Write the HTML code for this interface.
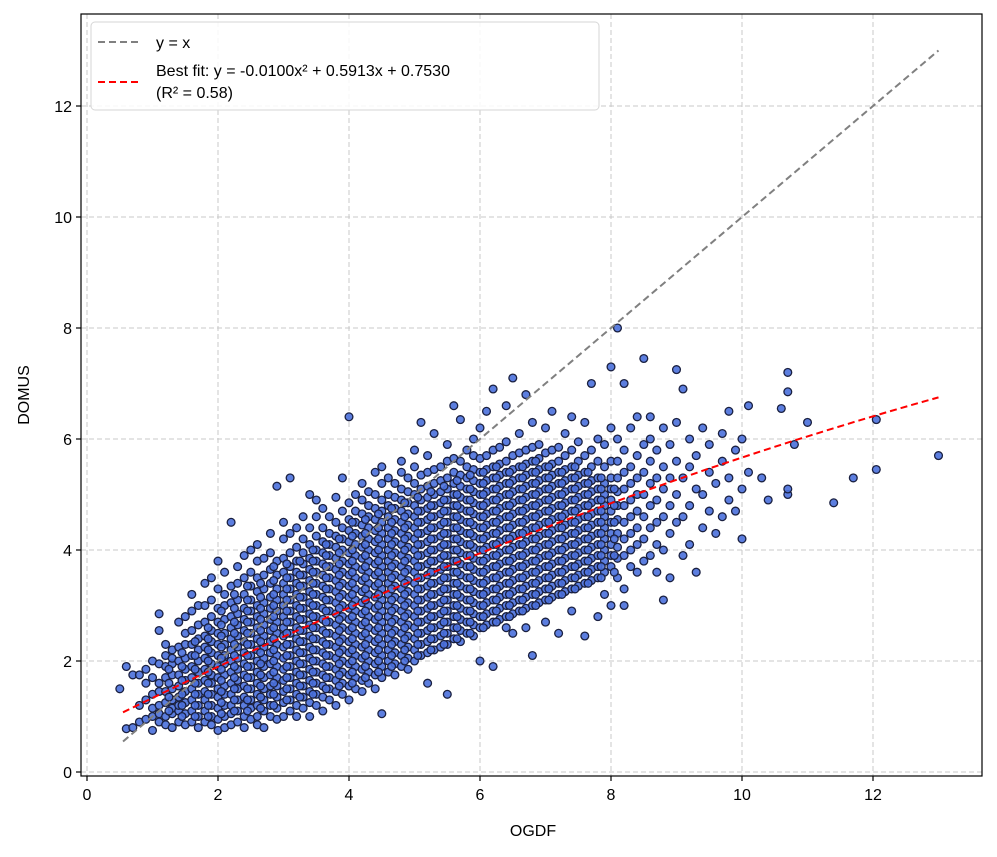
<!DOCTYPE html>
<html><head><meta charset="utf-8"><style>
body{margin:0;background:#fff;}
svg text{font-family:"Liberation Sans","DejaVu Sans",sans-serif;fill:#000;}
</style></head><body>
<svg id="chart" width="997" height="852" viewBox="0 0 997 852" xmlns="http://www.w3.org/2000/svg">
<rect width="997" height="852" fill="#fff"/>
<g id="grid"></g>
<g id="points"></g>
<g id="lines"></g>
<rect x="81" y="14" width="901" height="762" fill="none" stroke="#000" stroke-width="1.2"/>
<g id="ticks"></g>
<text x="533" y="836" font-size="16" text-anchor="middle">OGDF</text>
<text x="0" y="0" font-size="16" text-anchor="middle" transform="translate(29,395) rotate(-90)">DOMUS</text>
<g>
<rect x="91" y="22" width="508" height="88" rx="4" fill="#fff" fill-opacity="0.85" stroke="#d6d6d6"/>
<line x1="98" y1="42" x2="140" y2="42" stroke="#808080" stroke-width="2" stroke-dasharray="7,4"/>
<text x="156" y="48" font-size="16">y = x</text>
<line x1="98" y1="82" x2="140" y2="82" stroke="#ff0000" stroke-width="2" stroke-dasharray="7,4"/>
<text x="156" y="76" font-size="16">Best fit: y = -0.0100x² + 0.5913x + 0.7530</text>
<text x="156" y="98" font-size="16">(R² = 0.58)</text>
</g>
</svg>
<script>
const xTicks=[0,2,4,6,8,10,12];
const yTicks=[0,2,4,6,8,10,12];
const fitCoef=[-0.0100,0.5913,0.7530];
const lineRange=[0.55,13];
const colX=[0.5,0.6,0.7,0.8,0.9,1.0,1.1,1.2,1.3,1.4,1.5,1.6,1.7,1.8,1.9,2.0,2.1,2.2,2.3,2.4,2.5,2.6,2.7,2.8,2.9,3.0,3.1,3.2,3.3,3.4,3.5,3.6,3.7,3.8,3.9,4.0,4.1,4.2,4.3,4.4,4.5,4.6,4.7,4.8,4.9,5.0,5.1,5.2,5.3,5.4,5.5,5.6,5.7,5.8,5.9,6.0,6.1,6.2,6.3,6.4,6.5,6.6,6.7,6.8,6.9,7.0,7.1,7.2,7.3,7.4,7.5,7.6,7.7,7.8,7.9,8.0,8.1,8.2,8.3,8.4,8.5,8.6,8.7,8.8,8.9,9.0,9.1,9.2,9.3,9.4,9.5,9.6,9.7,9.8,9.9,10.0,10.1,10.3,10.4,10.6,10.7,10.8,11.0,11.4,11.7,12.05,13.0];
const colY=[
[1.5],[0.78,1.9],[0.8,1.75],[1.75,1.2,0.9],[0.95,1.6,1.3,1.85],
[0.75,1.15,1.4,1.7,2.0,1.0],
[0.9,1.2,1.45,1.6,1.95,2.85,2.55,1.05],
[1.0,1.25,1.45,1.7,1.9,2.1,0.85,2.3],
[0.8,1.05,1.3,1.5,1.75,1.95,2.2,2.05,1.15],
[0.9,1.1,1.35,1.55,1.75,2.0,2.25,2.7,1.2],
[0.85,1.05,1.25,1.45,1.65,1.85,2.05,2.3,2.5,2.8],
[0.9,1.1,1.3,1.5,1.7,1.9,2.1,2.3,2.55,2.9,3.2],
[0.8,1.0,1.2,1.4,1.6,1.8,2.0,2.2,2.4,2.65,3.0],
[0.9,1.1,1.3,1.45,1.65,1.85,2.05,2.25,2.45,2.7,3.0,3.4],
[0.85,1.0,1.2,1.4,1.6,1.75,1.95,2.15,2.35,2.55,2.8,3.1,3.5],
[0.75,0.95,1.15,1.35,1.5,1.7,1.9,2.1,2.3,2.5,2.7,2.95,3.3,3.8],
[0.8,1.0,1.2,1.4,1.55,1.75,1.95,2.1,2.3,2.5,2.75,3.0,3.2,3.6],
[0.85,1.05,1.2,1.4,1.6,1.8,2.0,2.2,2.4,2.6,2.8,3.05,3.35,4.5],
[0.9,1.1,1.3,1.5,1.65,1.85,2.05,2.25,2.45,2.65,2.85,3.1,3.4,3.7],
[0.8,1.0,1.2,1.35,1.55,1.75,1.95,2.15,2.35,2.55,2.75,2.95,3.2,3.5,3.9],
[0.95,1.15,1.3,1.5,1.7,1.9,2.1,2.3,2.5,2.7,2.9,3.1,3.35,3.6,4.0],
[0.85,1.0,1.2,1.4,1.6,1.8,2.0,2.2,2.4,2.6,2.8,3.0,3.25,3.5,3.8,4.1],
[0.8,1.1,1.3,1.5,1.7,1.9,2.05,2.25,2.45,2.65,2.85,3.05,3.3,3.55,3.85],
[1.0,1.2,1.4,1.55,1.75,1.95,2.15,2.35,2.55,2.75,2.95,3.15,3.4,3.65,3.95,4.3],
[0.95,1.15,1.35,1.55,1.7,1.9,2.1,2.3,2.5,2.7,2.9,3.1,3.3,3.55,3.8,5.15],
[1.0,1.25,1.45,1.65,1.85,2.05,2.25,2.45,2.6,2.8,3.0,3.2,3.4,3.6,3.85,4.2,4.5],
[1.1,1.3,1.5,1.7,1.9,2.1,2.3,2.5,2.7,2.9,3.1,3.3,3.5,3.7,3.95,4.3,5.3],
[1.0,1.2,1.4,1.6,1.8,2.0,2.2,2.4,2.6,2.8,3.0,3.2,3.4,3.6,3.8,4.05,4.4],
[1.15,1.35,1.55,1.75,1.95,2.15,2.35,2.55,2.75,2.95,3.15,3.35,3.55,3.75,3.95,4.2,4.6],
[1.0,1.25,1.45,1.65,1.85,2.05,2.25,2.45,2.65,2.85,3.05,3.25,3.45,3.65,3.85,4.1,4.4,5.0],
[1.2,1.4,1.6,1.8,2.0,2.2,2.4,2.6,2.8,3.0,3.2,3.4,3.6,3.8,4.0,4.25,4.6,4.9],
[1.1,1.35,1.55,1.75,1.95,2.15,2.35,2.55,2.75,2.95,3.15,3.35,3.55,3.75,3.95,4.15,4.4,4.75],
[1.3,1.5,1.7,1.9,2.1,2.3,2.5,2.7,2.9,3.1,3.3,3.5,3.7,3.9,4.1,4.3,4.6],
[1.2,1.45,1.65,1.85,2.05,2.25,2.45,2.65,2.85,3.05,3.25,3.45,3.65,3.85,4.05,4.25,4.5,4.95],
[1.4,1.6,1.8,2.0,2.2,2.4,2.6,2.8,3.0,3.2,3.4,3.6,3.8,4.0,4.2,4.4,4.7,5.3],
[1.3,1.55,1.75,1.95,2.15,2.35,2.55,2.75,2.95,3.15,3.35,3.55,3.75,3.95,4.15,4.35,4.55,4.85,6.4],
[1.5,1.7,1.9,2.1,2.3,2.5,2.7,2.9,3.1,3.3,3.5,3.7,3.9,4.1,4.3,4.5,4.7,5.0],
[1.45,1.65,1.85,2.05,2.25,2.45,2.65,2.85,3.05,3.25,3.45,3.65,3.85,4.05,4.25,4.45,4.65,4.9,5.2],
[1.6,1.8,2.0,2.2,2.4,2.6,2.8,3.0,3.2,3.4,3.6,3.8,4.0,4.2,4.4,4.6,4.8,5.05],
[1.5,1.75,1.95,2.15,2.35,2.55,2.75,2.95,3.15,3.35,3.55,3.75,3.95,4.15,4.35,4.55,4.75,5.0,5.4],
[1.05,1.7,1.9,2.1,2.3,2.5,2.7,2.9,3.1,3.3,3.5,3.7,3.9,4.1,4.3,4.5,4.7,4.9,5.2,5.5],
[1.8,2.0,2.2,2.4,2.6,2.8,3.0,3.2,3.4,3.6,3.8,4.0,4.2,4.4,4.6,4.8,5.0,5.3],
[1.75,1.95,2.15,2.35,2.55,2.75,2.95,3.15,3.35,3.55,3.75,3.95,4.15,4.35,4.55,4.75,4.95,5.2],
[1.9,2.1,2.3,2.5,2.7,2.9,3.1,3.3,3.5,3.7,3.9,4.1,4.3,4.5,4.7,4.9,5.1,5.4,5.6],
[1.85,2.05,2.25,2.45,2.65,2.85,3.05,3.25,3.45,3.65,3.85,4.05,4.25,4.45,4.65,4.85,5.05,5.3],
[2.0,2.2,2.4,2.6,2.8,3.0,3.2,3.4,3.6,3.8,4.0,4.2,4.4,4.6,4.8,5.0,5.2,5.5,5.8],
[2.1,2.3,2.5,2.7,2.9,3.1,3.3,3.5,3.7,3.9,4.1,4.3,4.5,4.7,4.9,5.1,5.35,6.3],
[1.6,2.15,2.35,2.55,2.75,2.95,3.15,3.35,3.55,3.75,3.95,4.15,4.35,4.55,4.75,4.95,5.15,5.4,5.7],
[2.2,2.4,2.6,2.8,3.0,3.2,3.4,3.6,3.8,4.0,4.2,4.4,4.6,4.8,5.0,5.2,5.45,6.1],
[2.25,2.45,2.65,2.85,3.05,3.25,3.45,3.65,3.85,4.05,4.25,4.45,4.65,4.85,5.05,5.25,5.5],
[1.4,2.3,2.5,2.7,2.9,3.1,3.3,3.5,3.7,3.9,4.1,4.3,4.5,4.7,4.9,5.1,5.3,5.6,5.9],
[2.4,2.6,2.8,3.0,3.2,3.4,3.6,3.8,4.0,4.2,4.4,4.6,4.8,5.0,5.2,5.4,5.65,6.6],
[2.35,2.55,2.75,2.95,3.15,3.35,3.55,3.75,3.95,4.15,4.35,4.55,4.75,4.95,5.15,5.35,5.6,6.35],
[2.5,2.7,2.9,3.1,3.3,3.5,3.7,3.9,4.1,4.3,4.5,4.7,4.9,5.1,5.3,5.5,5.8],
[2.45,2.65,2.85,3.05,3.25,3.45,3.65,3.85,4.05,4.25,4.45,4.65,4.85,5.05,5.25,5.45,5.7,6.0],
[2.0,2.6,2.8,3.0,3.2,3.4,3.6,3.8,4.0,4.2,4.4,4.6,4.8,5.0,5.2,5.4,5.65,6.2],
[2.65,2.85,3.05,3.25,3.45,3.65,3.85,4.05,4.25,4.45,4.65,4.85,5.05,5.25,5.45,5.7,6.5],
[1.9,2.7,2.9,3.1,3.3,3.5,3.7,3.9,4.1,4.3,4.5,4.7,4.9,5.1,5.3,5.5,5.8,6.9],
[2.75,2.95,3.15,3.35,3.55,3.75,3.95,4.15,4.35,4.55,4.75,4.95,5.15,5.35,5.55,5.85],
[2.6,2.8,3.0,3.2,3.4,3.6,3.8,4.0,4.2,4.4,4.6,4.8,5.0,5.2,5.4,5.6,5.95,6.6],
[2.5,2.85,3.05,3.25,3.45,3.65,3.85,4.05,4.25,4.45,4.65,4.85,5.05,5.25,5.45,5.7,7.1],
[2.9,3.1,3.3,3.5,3.7,3.9,4.1,4.3,4.5,4.7,4.9,5.1,5.3,5.5,5.75,6.1],
[2.6,2.95,3.15,3.35,3.55,3.75,3.95,4.15,4.35,4.55,4.75,4.95,5.15,5.35,5.55,5.8,6.8],
[2.1,3.0,3.2,3.4,3.6,3.8,4.0,4.2,4.4,4.6,4.8,5.0,5.2,5.4,5.6,5.85,6.3],
[3.05,3.25,3.45,3.65,3.85,4.05,4.25,4.45,4.65,4.85,5.05,5.25,5.45,5.65,5.9],
[2.7,3.1,3.3,3.5,3.7,3.9,4.1,4.3,4.5,4.7,4.9,5.1,5.3,5.5,5.75,6.2],
[3.15,3.35,3.55,3.75,3.95,4.15,4.35,4.55,4.75,4.95,5.15,5.35,5.55,5.8,6.5],
[2.5,3.2,3.4,3.6,3.8,4.0,4.2,4.4,4.6,4.8,5.0,5.2,5.4,5.6,5.85],
[3.25,3.45,3.65,3.85,4.05,4.25,4.45,4.65,4.85,5.05,5.25,5.45,5.7,6.1],
[2.9,3.3,3.5,3.7,3.9,4.1,4.3,4.5,4.7,4.9,5.1,5.3,5.5,5.8,6.4],
[3.35,3.55,3.75,3.95,4.15,4.35,4.55,4.75,4.95,5.15,5.35,5.6,5.95],
[2.45,3.4,3.6,3.8,4.0,4.2,4.4,4.6,4.8,5.0,5.2,5.4,5.7,6.3],
[3.45,3.65,3.85,4.05,4.25,4.45,4.65,4.85,5.05,5.25,5.5,5.8,7.0],
[2.8,3.5,3.7,3.9,4.1,4.3,4.5,4.7,4.9,5.1,5.3,5.6,6.0],
[3.2,3.6,3.8,4.0,4.2,4.4,4.6,4.8,5.0,5.2,5.5,5.9],
[3.0,3.7,3.9,4.1,4.3,4.5,4.7,4.9,5.1,5.3,5.6,6.2,7.3],
[3.5,3.85,4.05,4.3,4.55,4.8,5.05,5.3,5.6,6.0,8.0],
[3.3,3.9,4.2,4.5,4.8,5.1,5.4,5.8,7.0,3.0],
[3.7,4.0,4.3,4.6,4.9,5.2,5.5,6.2],
[3.6,4.1,4.4,4.7,5.0,5.3,5.7,6.4],
[3.8,4.2,4.6,5.0,5.4,5.9,7.45],
[3.9,4.4,4.8,5.2,5.6,6.0,6.4],
[3.6,4.1,4.5,4.9,5.3,5.8],
[3.1,4.0,4.6,5.1,5.5,6.2],
[3.5,4.3,4.8,5.3,5.9],
[4.5,5.0,5.6,6.3,7.25],
[3.9,4.6,5.3,6.9],
[4.1,4.8,5.5,6.0],
[3.6,5.1,5.7],
[4.4,5.0,6.2],
[4.7,5.4,5.9],
[4.3,5.2],
[4.6,5.6,6.1],
[4.9,5.3,6.5],
[4.7,5.8],
[4.2,5.1,6.0],
[5.4,6.6],[5.3],[4.9],[6.55],[5.0,5.1,6.85,7.2],[5.9],[6.3],[4.85],[5.3],[5.45,6.35],[5.7]
];
const coreX=[1.25,1.45,1.65,1.85,2.05,2.25,2.45,2.65,2.85,3.05,3.25,3.45,3.65,3.85,4.05,4.25,4.45,4.65,4.85,5.05,5.25,5.45,5.65,5.85,6.05,6.25,6.45,6.65,6.85,7.05,7.25,7.45,7.65,7.85,8.05];
const coreY=[
[1.1,1.35,1.6,1.85],
[1.0,1.2,1.4,1.65,1.9,2.15],
[1.0,1.2,1.4,1.6,1.85,2.1,2.35],
[1.0,1.2,1.4,1.6,1.8,2.0,2.2,2.4,2.6],
[1.05,1.25,1.45,1.65,1.85,2.05,2.25,2.45,2.65,2.9],
[1.1,1.3,1.5,1.7,1.9,2.1,2.3,2.5,2.7,2.95,3.2],
[1.1,1.3,1.5,1.7,1.9,2.1,2.3,2.5,2.7,2.9,3.1,3.35],
[1.15,1.35,1.55,1.75,1.95,2.15,2.35,2.55,2.75,2.95,3.15,3.4],
[1.2,1.4,1.6,1.8,2.0,2.2,2.4,2.6,2.8,3.0,3.2,3.45,3.7],
[1.3,1.5,1.7,1.9,2.1,2.3,2.5,2.7,2.9,3.1,3.3,3.5,3.75],
[1.35,1.55,1.75,1.95,2.15,2.35,2.55,2.75,2.95,3.15,3.35,3.55,3.8],
[1.4,1.6,1.8,2.0,2.2,2.4,2.6,2.8,3.0,3.2,3.4,3.6,3.8,4.0],
[1.5,1.7,1.9,2.1,2.3,2.5,2.7,2.9,3.1,3.3,3.5,3.7,3.9,4.1],
[1.55,1.75,1.95,2.15,2.35,2.55,2.75,2.95,3.15,3.35,3.55,3.75,3.95,4.2],
[1.6,1.8,2.0,2.2,2.4,2.6,2.8,3.0,3.2,3.4,3.6,3.8,4.0,4.25,4.5],
[1.7,1.9,2.1,2.3,2.5,2.7,2.9,3.1,3.3,3.5,3.7,3.9,4.1,4.3,4.55],
[1.8,2.0,2.2,2.4,2.6,2.8,3.0,3.2,3.4,3.6,3.8,4.0,4.2,4.4,4.65],
[1.9,2.1,2.3,2.5,2.7,2.9,3.1,3.3,3.5,3.7,3.9,4.1,4.3,4.5,4.75],
[2.0,2.2,2.4,2.6,2.8,3.0,3.2,3.4,3.6,3.8,4.0,4.2,4.4,4.6,4.85],
[2.1,2.3,2.5,2.7,2.9,3.1,3.3,3.5,3.7,3.9,4.1,4.3,4.5,4.7,4.95],
[2.2,2.4,2.6,2.8,3.0,3.2,3.4,3.6,3.8,4.0,4.2,4.4,4.6,4.8,5.05],
[2.3,2.5,2.7,2.9,3.1,3.3,3.5,3.7,3.9,4.1,4.3,4.5,4.7,4.9,5.15],
[2.4,2.6,2.8,3.0,3.2,3.4,3.6,3.8,4.0,4.2,4.4,4.6,4.8,5.0,5.25],
[2.5,2.7,2.9,3.1,3.3,3.5,3.7,3.9,4.1,4.3,4.5,4.7,4.9,5.1,5.35],
[2.6,2.8,3.0,3.2,3.4,3.6,3.8,4.0,4.2,4.4,4.6,4.8,5.0,5.2,5.4],
[2.7,2.9,3.1,3.3,3.5,3.7,3.9,4.1,4.3,4.5,4.7,4.9,5.1,5.3,5.5],
[2.8,3.0,3.2,3.4,3.6,3.8,4.0,4.2,4.4,4.6,4.8,5.0,5.2,5.4],
[2.9,3.1,3.3,3.5,3.7,3.9,4.1,4.3,4.5,4.7,4.9,5.1,5.3,5.5],
[3.0,3.2,3.4,3.6,3.8,4.0,4.2,4.4,4.6,4.8,5.0,5.2,5.4,5.6],
[3.1,3.3,3.5,3.7,3.9,4.1,4.3,4.5,4.7,4.9,5.1,5.3,5.5],
[3.2,3.4,3.6,3.8,4.0,4.2,4.4,4.6,4.8,5.0,5.2,5.4],
[3.3,3.5,3.7,3.9,4.1,4.3,4.5,4.7,4.9,5.1,5.3,5.5],
[3.4,3.6,3.8,4.0,4.2,4.4,4.6,4.8,5.0,5.2,5.4],
[3.5,3.7,3.9,4.1,4.3,4.5,4.7,4.9,5.1,5.3],
[3.6,3.9,4.2,4.5,4.8,5.1]
];
const ogdf=[];const domus=[];
colX.forEach((x,i)=>colY[i].forEach(y=>{ogdf.push(x);domus.push(y);}));
coreX.forEach((x,i)=>coreY[i].forEach(y=>{ogdf.push(x);domus.push(y);}));

const NS="http://www.w3.org/2000/svg";
const L=81,R=982,T=14,B=776;
const sx=v=>87+v*65.5;
const sy=v=>772-v*55.5;
function mk(tag,attrs,parent){const e=document.createElementNS(NS,tag);for(const k in attrs)e.setAttribute(k,attrs[k]);parent.appendChild(e);return e;}
const grid=document.getElementById('grid'),ticks=document.getElementById('ticks'),pts=document.getElementById('points'),lines=document.getElementById('lines');
xTicks.forEach(t=>{
  const g=mk('line',{x1:sx(t),x2:sx(t),y1:T,y2:B,stroke:'#c8c8c8','stroke-width':1,'stroke-dasharray':'5,3'},grid);
  
  
  const tk=mk('line',{x1:sx(t),x2:sx(t),y1:B,y2:B+5,stroke:'#000','stroke-width':1.2},ticks);
  
  
  const tx=mk('text',{x:sx(t),y:B+24,'font-size':16,'text-anchor':'middle'},ticks);tx.textContent=t;
  
  
});
yTicks.forEach(t=>{
  const g=mk('line',{x1:L,x2:R,y1:sy(t),y2:sy(t),stroke:'#c8c8c8','stroke-width':1,'stroke-dasharray':'5,3'},grid);
  
  
  const tk=mk('line',{x1:L-5,x2:L,y1:sy(t),y2:sy(t),stroke:'#000','stroke-width':1.2},ticks);
  
  
  const tx=mk('text',{x:L-9,y:sy(t)+6,'font-size':16,'text-anchor':'end'},ticks);tx.textContent=t;
  
  
});
ogdf.forEach((x,i)=>{
  const c=mk('circle',{cx:sx(x).toFixed(1),cy:sy(domus[i]).toFixed(1),r:3.9,fill:'#4a70dc','fill-opacity':0.9,stroke:'#1a2040','stroke-width':1.3},pts);
  
  
});
const idl=mk('line',{x1:sx(lineRange[0]),y1:sy(lineRange[0]),x2:sx(lineRange[1]),y2:sy(lineRange[1]),stroke:'#808080','stroke-width':2,'stroke-dasharray':'7,4'},lines);


let d='';
for(let k=0;k<=60;k++){const x=lineRange[0]+(lineRange[1]-lineRange[0])*k/60;const y=fitCoef[0]*x*x+fitCoef[1]*x+fitCoef[2];d+=(k?'L':'M')+sx(x).toFixed(1)+','+sy(y).toFixed(1);}
const fl=mk('path',{d:d,fill:'none',stroke:'#ff0000','stroke-width':2,'stroke-dasharray':'7,4'},lines);


</script>
</body></html>
